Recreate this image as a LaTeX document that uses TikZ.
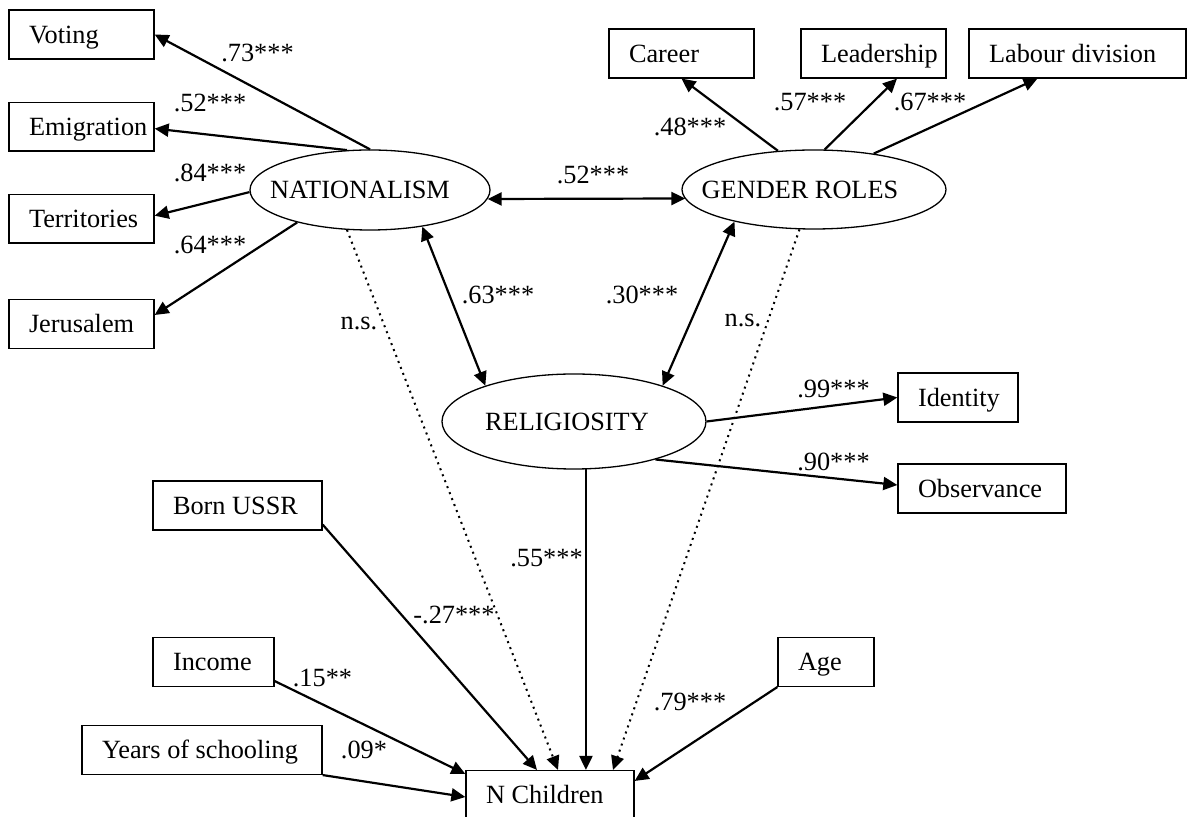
\documentclass[tikz,border=0pt]{standalone}
\usepackage{fontspec}
\setmainfont{Liberation Serif}
\usetikzlibrary{arrows.meta,shapes.geometric,positioning}
\newcommand{\obstext}[2]{\makebox[#1][l]{#2}}
\tikzstyle{Obs} = [draw, rectangle, line width=0.65pt, minimum height=24.4pt, inner xsep=10pt, inner ysep=0pt, text height=8.7pt, text depth=0pt]
\tikzstyle{Latent} = [draw, ellipse, line width=0.65pt, inner sep=0pt]
\tikzstyle{Coef} = [inner sep=0pt]
\tikzstyle{Path} = [->, line width=1.1pt]
\tikzstyle{Cov} = [<->, line width=1.1pt]
\tikzstyle{NS} = [->, line width=1pt, dash pattern=on 1pt off 2.2pt]

\begin{document}
\begin{tikzpicture}[x=0.5pt, y=-0.5pt, >={Triangle[length=7pt,width=6.5pt]}, font=\fontsize{13.15}{15}\selectfont]
    \useasboundingbox (0,0) rectangle (1191,817);
    % latent factors
    \node[Latent, minimum width=120pt, minimum height=40pt, label={[xshift=-5pt]center:NATIONALISM}] (nat) at (370,190) {};
    \node[Latent, minimum width=132pt, minimum height=39.5pt, label={[xshift=-7pt]center:GENDER ROLES}] (gen) at (814,189.5) {};
    \node[Latent, minimum width=132pt, minimum height=47.5pt, label={[xshift=-3.5pt]center:RELIGIOSITY}] (rel) at (574,421.5) {};
    % indicators
    \node[Obs] (voting) at (81.5,34.5)      {\obstext{52.5pt}{Voting}};
    \node[Obs] (emig) [below=21pt of voting] {\obstext{52.5pt}{Emigration}};
    \node[Obs] (terr) [below=21pt of emig]   {\obstext{52.5pt}{Territories}};
    \node[Obs] (jer) at (81.5,324)          {\obstext{52.5pt}{Jerusalem}};
    \node[Obs] (career) at (681.5,53.5)     {\obstext{52.5pt}{Career}};
    \node[Obs] (leader) at (873.5,53.5)     {\obstext{52.5pt}{Leadership}};
    \node[Obs] (labour) at (1077.5,53.5)    {\obstext{88.5pt}{Labour division}};
    \node[Obs] (ident) at (958,397.5)       {\obstext{40pt}{Identity}};
    \node[Obs] (observ) at (982,488.5)      {\obstext{64pt}{Observance}};
    % predictors and outcome
    \node[Obs] (bornussr) at (237.5,505.5)  {\obstext{64.5pt}{Born USSR}};
    \node[Obs] (income) at (213.5,662)      {\obstext{40.5pt}{Income}};
    \node[Obs] (school) at (202,750)        {\obstext{100pt}{Years of schooling}};
    \node[Obs] (age) at (826,662)           {\obstext{28pt}{Age}};
    \node[Obs] (nch) at (550,795)           {\obstext{64pt}{N Children}};
    % loadings
    \draw[Path] (nat.north) to (voting.east);
    \draw[Path] (nat.120) to ([yshift=-1pt]emig.east);
    \draw[Path] (nat.181) to ([yshift=1.5pt]terr.east);
    \draw[Path] (nat.204) to ([yshift=4.5pt]jer.east);
    \draw[Path] (gen.133) to (career.south);
    \draw[Path] (gen.75) to ([xshift=11.75pt]leader.south);
    \draw[Path] (gen.31) to ([xshift=-20pt]labour.south);
    \draw[Path] (rel.east) to (ident.west);
    \draw[Path] (rel.335) to ([yshift=1.75pt]observ.west);
    % correlations
    \draw[Cov] ([yshift=-4.5pt,xshift=-1.5pt]nat.east) to ([yshift=-4.5pt,xshift=2pt]gen.west);
    \draw[Cov] (nat.325) to (rel.158);
    \draw[Cov] (gen.202) to (rel.22);
    % effects on N Children
    \draw[Path] (rel.284) to (rel.284 |- nch.north);
    \draw[NS] (nat.240) to ([xshift=4pt]nch.north);
    \draw[NS] (gen.250) to ([xshift=31.5pt]nch.north);
    \draw[Path] ([yshift=3pt]bornussr.south east) to ([xshift=-6.5pt]nch.north);
    \draw[Path] ([yshift=3pt]income.south east) to ([yshift=-2pt]nch.north west);
    \draw[Path] (school.south east) to ([yshift=-1pt]nch.west);
    \draw[Path] (age.south west) to ([yshift=-5.5pt]nch.north east);
    % coefficients
    \node[Coef] (cvoting) at (257.5,53)  {.73***};
    \node[Coef] (cemig)   at (210,103)   {.52***};
    \node[Coef] (cterr)   at (210,173)   {.84***};
    \node[Coef] (cjer)    at (210,245)   {.64***};
    \node[Coef] (cnatgen) at (593,175)   {.52***};
    \node[Coef] (ccareer) at (690,127)   {.48***};
    \node[Coef] (cleader) at (810,102)   {.57***};
    \node[Coef] (clabour) at (930,102)   {.67***};
    \node[Coef] (cnatrel) at (498,295)   {.63***};
    \node[Coef] (cgenrel) at (642,295)   {.30***};
    \node[Coef] (nsnat)   at (359,323)   {n.s.};
    \node[Coef] (nsgen)   at (743,320)   {n.s.};
    \node[Coef] (cident)  at (833.5,389) {.99***};
    \node[Coef] (cobserv) at (833.5,462) {.90***};
    \node[Coef] (crel)    at (546.5,558) {.55***};
    \node[Coef] (cborn)   at (454,615)   {-.27***};
    \node[Coef] (cincome) at (322.5,678) {.15**};
    \node[Coef] (cschool) at (364,750)   {.09*};
    \node[Coef] (cage)    at (690,702)   {.79***};
\end{tikzpicture}
\end{document}
